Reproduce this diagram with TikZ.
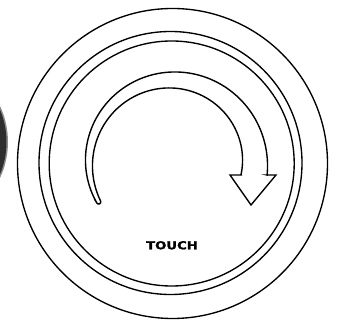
\documentclass[tikz,border=0pt]{standalone}
\usepackage{fontspec}
\newfontfamily\touchfont[FakeBold=1.6]{DejaVu Sans Bold}
\begin{document}
\begin{tikzpicture}[x=1pt,y=1pt,
  ring/.style={draw=black,line width=1.35pt},
  arrowband/.style={draw=black,line width=1.4pt,line join=miter},
  blobedge/.style={fill=black!45,draw=none},
  blob/.style={fill=black!82,draw=none},
  label/.style={font=\touchfont\fontsize{11}{11}\selectfont,inner sep=0pt,anchor=base,xscale=1.2}]
\useasboundingbox (0,0) rectangle (337,320);
% partial dark disc at the left edge
\path[blobedge] (-77,178) circle (85);
\path[blob] (-77,178) circle (83.5);
% dial rings
\node[ring,circle,minimum size=310pt,inner sep=0pt] (outer) at (172.5,156.5) {};
\node[ring,circle,minimum size=263pt,inner sep=0pt] (middle) at (170.5,157) {};
\node[ring,circle,minimum size=245pt,inner sep=0pt] (inner) at (171.7,156.5) {};
% curved arrow (tapering band)
\coordinate (dial) at (172,157);
\coordinate (shaftin) at (241,145);
\coordinate (tailout) at (96.86,117.05);
\coordinate (shaftout) at (267.05,145);
\coordinate (wingR) at (276,145);
\coordinate (tip) at (251,115);
\coordinate (wingL) at (230,145);
\draw[arrowband] (shaftin)
  -- plot[domain=-9.84:208,samples=90,variable=\t]
     ({172+(83-(7+0.1*(180-\t))/2)*cos(\t)},{157+(83-(7+0.1*(180-\t))/2)*sin(\t)})
  .. controls +(298:2.8) and +(298:2.8) .. (tailout)
  -- plot[domain=208:-7.2,samples=90,variable=\t]
     ({172+(83+(7+0.1*(180-\t))/2)*cos(\t)},{157+(83+(7+0.1*(180-\t))/2)*sin(\t)})
  -- (shaftout) -- (wingR) -- (tip) -- (wingL) -- cycle;
% label
\node[label] (touch) at (172,70.7) {TOUCH};
\end{tikzpicture}
\end{document}
